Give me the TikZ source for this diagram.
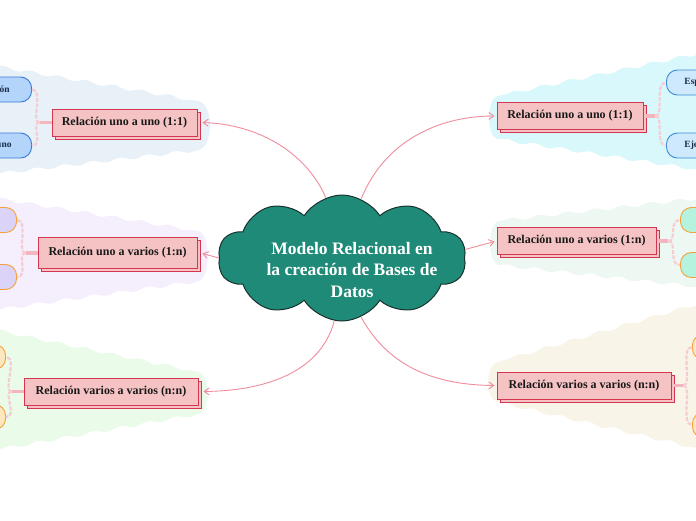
\documentclass[tikz,border=0pt]{standalone}
\usepackage{fontspec}
\setmainfont{Liberation Serif}
\usetikzlibrary{shapes.symbols,shadows,decorations.pathmorphing,arrows.meta,calc}
\definecolor{blobLT}{HTML}{E8F1F7}
\definecolor{blobLM}{HTML}{F5EEFC}
\definecolor{blobLB}{HTML}{EAFBEA}
\definecolor{blobRT}{HTML}{D8F8FB}
\definecolor{blobRM}{HTML}{EEF8F2}
\definecolor{blobRB}{HTML}{F8F4E7}
\definecolor{cloudteal}{HTML}{1F8A77}
\definecolor{cloudline}{HTML}{18332F}
\definecolor{connpink}{HTML}{F08C9C}
\definecolor{boxfill}{HTML}{F6C3C5}
\definecolor{boxline}{HTML}{D43550}
\definecolor{stubpink}{HTML}{F5B5BE}
\definecolor{curvepink}{HTML}{F7CBD2}
\definecolor{leafblue}{HTML}{B3D4FB}
\definecolor{leafblueline}{HTML}{3C78D8}
\definecolor{leafcyan}{HTML}{CDE9FB}
\definecolor{leafcyanline}{HTML}{3C8AD8}
\definecolor{leaflav}{HTML}{DCD4F8}
\definecolor{leafmint}{HTML}{B5F3DF}
\definecolor{leafcream}{HTML}{FDE7C0}
\definecolor{leaforange}{HTML}{F5A13A}
\definecolor{leaftext}{HTML}{1B2E4A}
\begin{document}
\begin{tikzpicture}[x=1pt,y=-1pt,
  wavy/.style={decoration={snake,amplitude=1.6pt,segment length=28pt}},
  mainbox/.style={rectangle,fill=boxfill,draw=boxline,line width=0.9pt,
    minimum height=27pt,inner xsep=6pt,
    font=\bfseries\fontsize{12}{14}\selectfont,text=black!90,
    copy shadow={shadow xshift=3pt,shadow yshift=-3pt,fill=boxfill,draw=boxline,line width=0.9pt}},
  leaf/.style={rectangle,rounded corners=11pt,line width=0.9pt,minimum height=25pt,
    font=\bfseries\fontsize{9.5}{11}\selectfont,text=leaftext},
  conn/.style={draw=connpink,line width=0.9pt,-{Straight Barb[length=5pt,width=7pt]},shorten >=2pt},
  stub/.style={draw=stubpink,line width=3.5pt},
  twig/.style={draw=curvepink,line width=2.2pt,dash pattern=on 4pt off 1.5pt}]
\useasboundingbox (0,0) rectangle (696,520);
\clip (0,0) rectangle (696,520);
\fill[white] (0,0) rectangle (696,520);
% background blobs
\fill[blobLT] (-5,66) decorate[wavy]{-- (198,101)} .. controls (214,103) and (214,148) .. (198,150) decorate[wavy]{-- (-5,174)} -- cycle;
\fill[blobLM] (-5,198) decorate[wavy]{-- (198,231)} .. controls (211,233) and (211,279) .. (198,281) decorate[wavy]{-- (-5,310)} -- cycle;
\fill[blobLB] (-5,330) decorate[wavy]{-- (198,372)} .. controls (211,374) and (211,412) .. (198,414) decorate[wavy]{-- (-5,450)} -- cycle;
\fill[blobRT] (701,53) decorate[wavy]{-- (498,96)} .. controls (486,98) and (486,137) .. (498,139) decorate[wavy]{-- (701,170)} -- cycle;
\fill[blobRM] (701,198) decorate[wavy]{-- (499,221)} .. controls (487,223) and (487,263) .. (499,265) decorate[wavy]{-- (701,287)} -- cycle;
\fill[blobRB] (701,303) decorate[wavy]{-- (498,362)} .. controls (485,364) and (485,400) .. (498,402) decorate[wavy]{-- (701,449)} -- cycle;
% central cloud
\node[cloud,cloud puffs=10,cloud puff arc=115,cloud ignores aspect,
  minimum width=248pt,minimum height=126pt,fill=cloudteal,draw=cloudline,line width=1pt] (c) at (342,258) {};
\node[text=white,align=center,font=\bfseries\fontsize{17.5}{21.5}\selectfont] (ct) at (352,270)
  {Modelo Relacional en\\la creación de Bases de\\Datos};
% main boxes
\node[mainbox,minimum width=145pt] (L1) at (124.5,122.5) {Relación uno a uno (1:1)};
\node[mainbox,minimum width=159pt,minimum height=31pt] (L2) at (117.5,253) {Relación uno a varios (1:n)};
\node[mainbox,minimum width=174pt] (L3) at (111,391.5) {Relación varios a varios (n:n)};
\node[mainbox,minimum width=146pt] (R1) at (570,116) {Relación uno a uno (1:1)};
\node[mainbox,minimum width=159pt] (R2) at (576.5,241) {Relación uno a varios (1:n)};
\node[mainbox,minimum width=174pt] (R3) at (584,385.5) {Relación varios a varios (n:n)};
% leaves
\node[leaf,fill=leafblue,draw=leafblueline,text width=90pt,align=right,inner xsep=22pt,anchor=east] (L1a) at (32,89.5) {Definición};
\node[leaf,fill=leafblue,draw=leafblueline,text width=100pt,align=right,inner xsep=20pt,anchor=east] (L1b) at (32,145.5) {Ejemplo uno a uno};
\node[leaf,fill=leafcyan,draw=leafcyanline,text width=90pt,align=left,inner xsep=18pt,anchor=west] (R1a) at (666,82.5) {Especificación};
\node[leaf,fill=leafcyan,draw=leafcyanline,text width=90pt,align=left,inner xsep=18pt,anchor=west] (R1b) at (666,145.5) {Ejemplo};
\node[leaf,fill=leaflav,draw=leaforange,minimum width=90pt,anchor=east] (L2a) at (17,220) {};
\node[leaf,fill=leaflav,draw=leaforange,minimum width=90pt,anchor=east] (L2b) at (17,277) {};
\node[leaf,fill=leafmint,draw=leaforange,minimum width=90pt,anchor=west] (R2a) at (680,220) {};
\node[leaf,fill=leafmint,draw=leaforange,minimum width=90pt,anchor=west] (R2b) at (680,265) {};
\node[leaf,fill=leafcream,draw=leaforange,minimum width=90pt,anchor=east] (L3a) at (6,357) {};
\node[leaf,fill=leafcream,draw=leaforange,minimum width=90pt,anchor=east] (L3b) at (6,417) {};
\node[leaf,fill=leafcream,draw=leaforange,minimum width=90pt,anchor=west] (R3a) at (692,347) {};
\node[leaf,fill=leafcream,draw=leaforange,minimum width=90pt,anchor=west] (R3b) at (692,425) {};
% junctions
\coordinate (jL1) at ($(L1.west)+(-12,0)$);
\coordinate (jL2) at ($(L2.west)+(-12,0)$);
\coordinate (jL3) at ($(L3.west)+(-12,0)$);
\coordinate (jR1) at ($(R1.east)+(12,0)$);
\coordinate (jR2) at ($(R2.east)+(12,0)$);
\coordinate (jR3) at ($(R3.east)+(12,0)$);
% twigs
\foreach \j/\a/\s in {jL1/L1a/-1,jL1/L1b/-1,jL2/L2a/-1,jL2/L2b/-1,jL3/L3a/-1,jL3/L3b/-1,
                      jR1/R1a/1,jR1/R1b/1,jR2/R2a/1,jR2/R2b/1,jR3/R3a/1,jR3/R3b/1}{
  \ifnum\s<0
    \draw[twig] (\j) .. controls +(-9,0) and +(12,0) .. (\a.east);
  \else
    \draw[twig] (\j) .. controls +(9,0) and +(-12,0) .. (\a.west);
  \fi
}
\draw[stub] (L1.west) -- (jL1);
\draw[stub] (L2.west) -- (jL2);
\draw[stub] (L3.west) -- (jL3);
\draw[stub] ([xshift=3pt]R1.east) -- (jR1);
\draw[stub] ([xshift=3pt]R2.east) -- (jR2);
\draw[stub] ([xshift=3pt]R3.east) -- (jR3);
% connectors
\draw[conn] (c.105) .. controls (305,150) and (255,124) .. ([xshift=3pt]L1.east);
\draw[conn] (c.180) -- ([xshift=3pt]L2.east);
\draw[conn] (c.-97) .. controls (320,375) and (260,391) .. ([xshift=3pt]L3.east);
\draw[conn] (c.72) .. controls (385,140) and (440,116) .. (R1.west);
\draw[conn] (c.4) -- (R2.west);
\draw[conn] (c.-72) .. controls (390,370) and (440,385) .. (R3.west);
\end{tikzpicture}
\end{document}
